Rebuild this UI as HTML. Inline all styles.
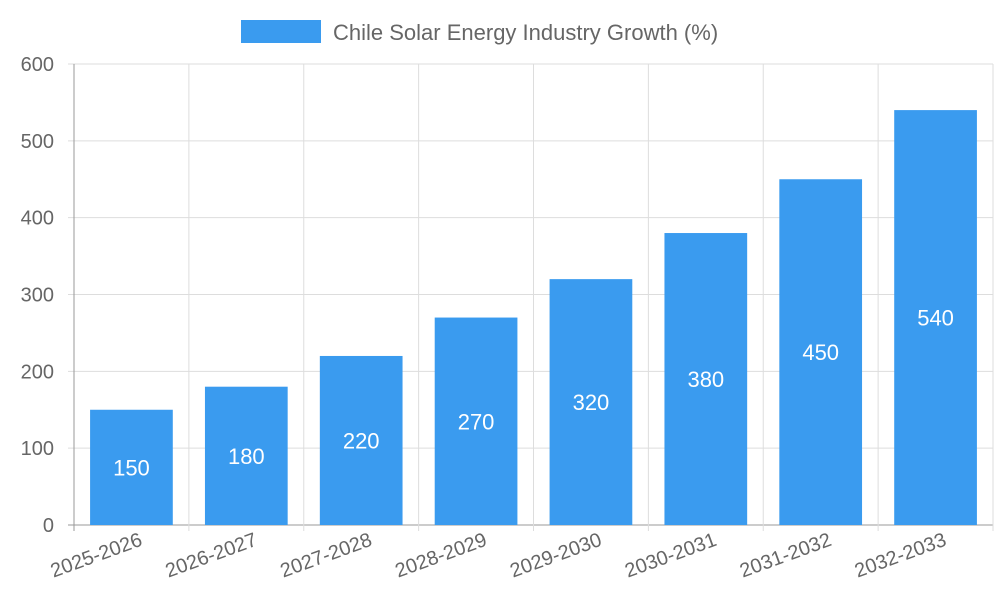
<!DOCTYPE html>
<html><head><meta charset="utf-8"><style>
html,body{margin:0;padding:0;background:#fff;}
svg{display:block;font-family:"Liberation Sans",sans-serif;}
</style></head><body>
<svg id="chart" width="1000" height="600" viewBox="0 0 1000 600" xmlns="http://www.w3.org/2000/svg">
<g id="legend">
<rect x="241" y="20" width="80" height="23" fill="#3a9bef"/>
<text x="333" y="40" font-size="22" fill="#666">Chile Solar Energy Industry Growth (%)</text>
</g>
<g id="grid"></g><g id="bars"></g><g id="axes"></g>
</svg>
<script>
const categories = ["2025-2026","2026-2027","2027-2028","2028-2029","2029-2030","2030-2031","2031-2032","2032-2033"];
const values = [150,180,220,270,320,380,450,540];
const yTicks = [0,100,200,300,400,500,600];
const L=74,R=993,T=64,B=525,yMax=600;
const band=(R-L)/categories.length;
const y=v=>B-(v/yMax)*(B-T);
const x=i=>L+i*band;
const NS="http://www.w3.org/2000/svg";
function mk(tag,attrs,parent){const e=document.createElementNS(NS,tag);for(const k in attrs)e.setAttribute(k,attrs[k]);parent.appendChild(e);return e;}
const grid=document.getElementById('grid'),bars=document.getElementById('bars'),axes=document.getElementById('axes');
yTicks.forEach(t=>{
  const g=mk('line',{x1:L-6,x2:R,y1:y(t),y2:y(t),stroke:t===0?'#999':'#ddd','stroke-width':1},grid);
  
  
  const tx=mk('text',{x:L-20,y:y(t)+7,'font-size':20,fill:'#666','text-anchor':'end'},axes);
  tx.textContent=t;
  
  
});
for(let i=0;i<=categories.length;i++){
  const g=mk('line',{x1:x(i),x2:x(i),y1:T,y2:B+6,stroke:i===0?'#999':'#ddd','stroke-width':1},grid);
  
  
}
const bw=band*0.72;
categories.forEach((c,i)=>{
  const cx=x(i)+band/2;
  const r=mk('rect',{x:cx-bw/2,y:y(values[i]),width:bw,height:B-y(values[i]),fill:'#3a9bef'},bars);
  
  
  const vl=mk('text',{x:cx,y:(y(values[i])+B)/2+8,'font-size':22,fill:'#fff','text-anchor':'middle'},bars);
  vl.textContent=values[i];
  
  
  const xl=mk('text',{x:cx+12,y:B+20,'font-size':20,fill:'#666','text-anchor':'end',transform:`rotate(-20 ${cx+12} ${B+20})`},axes);
  xl.textContent=c;
  
  
});
</script>
</body></html>
